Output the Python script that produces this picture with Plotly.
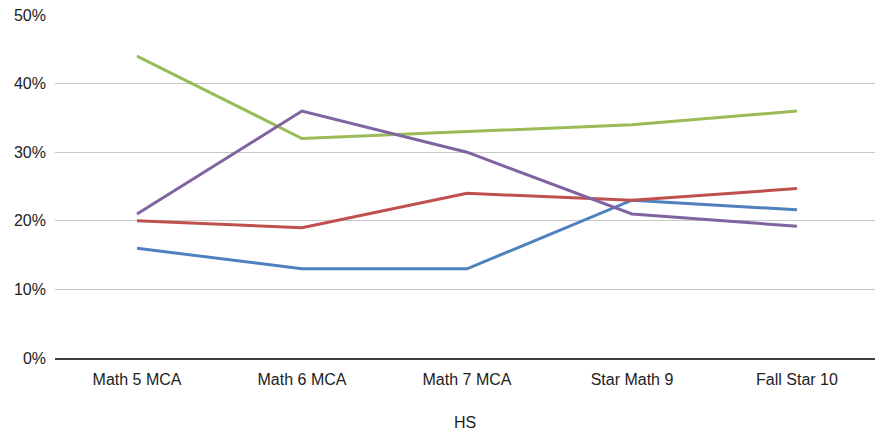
import plotly.graph_objects as go

categories = ['Math 5 MCA', 'Math 6 MCA', 'Math 7 MCA', 'Star Math 9', 'Fall Star 10']
blue_vals = [0.16, 0.13, 0.13, 0.23, 0.216]
red_vals = [0.20, 0.19, 0.24, 0.23, 0.247]
green_vals = [0.44, 0.32, 0.33, 0.34, 0.36]
purple_vals = [0.21, 0.36, 0.30, 0.21, 0.192]

series = [
    ('Series 1', blue_vals, '#4F81BD'),
    ('Series 2', red_vals, '#C0504D'),
    ('Series 3', green_vals, '#9BBB59'),
    ('Series 4', purple_vals, '#8064A2'),
]

fig = go.Figure()
for name, vals, color in series:
    fig.add_trace(go.Scatter(x=categories, y=vals, name=name, mode='lines',
                             line=dict(color=color, width=3)))

fig.update_layout(
    width=875, height=433,
    margin=dict(l=55, r=0, t=15, b=75),
    paper_bgcolor='white', plot_bgcolor='white',
    showlegend=False,
    font=dict(family='Liberation Sans, Arial, sans-serif', size=16, color='#222222'),
)
fig.update_xaxes(
    range=[-0.497, 4.473], showgrid=False, automargin=False,
    showline=True, linecolor='#404040', linewidth=1.5,
    ticks='', ticklabelstandoff=6,
    title=dict(text='HS', standoff=30, font=dict(size=16)),
)
fig.update_yaxes(
    range=[0, 0.5], dtick=0.1, tickformat='.0%', automargin=False,
    showgrid=True, gridcolor='#C8C8C8', gridwidth=1,
    zeroline=False, ticks='', ticklabelstandoff=8,
)

# drop the browser's default body margin so the figure sits at the window corner
fig.write_html("out.html", config={'displayModeBar': False},
               post_script="document.body.style.margin='0';")
